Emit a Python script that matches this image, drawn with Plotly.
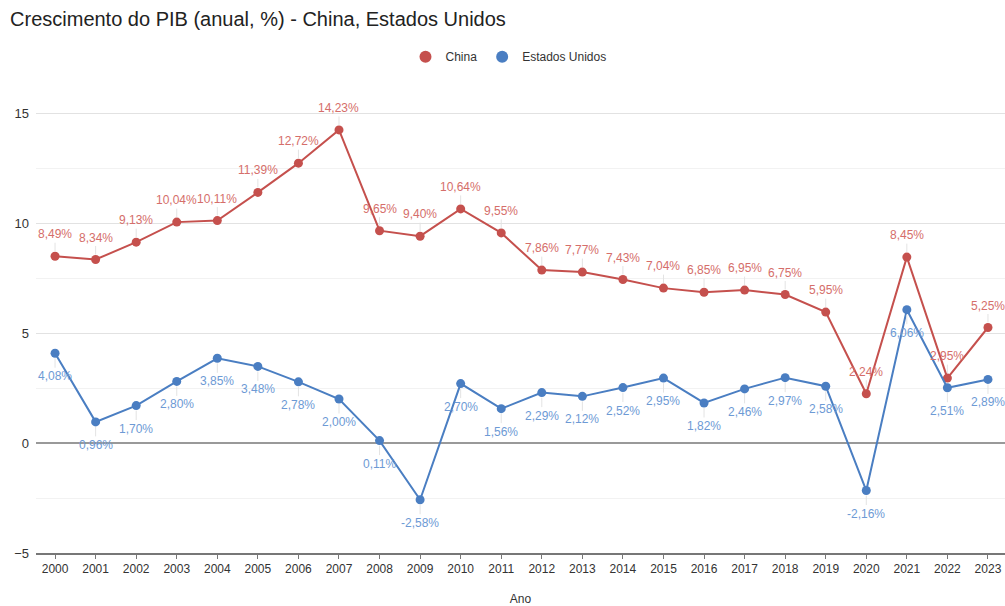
import plotly.graph_objects as go

anos = list(range(2000, 2024))
china = [8.49, 8.34, 9.13, 10.04, 10.11, 11.39, 12.72, 14.23, 9.65, 9.40, 10.64, 9.55,
         7.86, 7.77, 7.43, 7.04, 6.85, 6.95, 6.75, 5.95, 2.24, 8.45, 2.95, 5.25]
eua = [4.08, 0.96, 1.70, 2.80, 3.85, 3.48, 2.78, 2.00, 0.11, -2.58, 2.70, 1.56,
       2.29, 2.12, 2.52, 2.95, 1.82, 2.46, 2.97, 2.58, -2.16, 6.06, 2.51, 2.89]

COR_CHINA = '#c5504d'
COR_EUA = '#4a7ec2'
ROT_CHINA = '#d56e6a'
ROT_EUA = '#6d9ad5'
FONTE = 'Liberation Sans, Arial, sans-serif'


def fmt(v):
    return f"{v:.2f}".replace('.', ',') + '%'


fig = go.Figure()

for nome, vals, cor in [('China', china, COR_CHINA), ('Estados Unidos', eua, COR_EUA)]:
    fig.add_trace(go.Scatter(
        x=anos, y=vals, name=nome, mode='lines+markers',
        line=dict(color=cor, width=2),
        marker=dict(size=9, color=cor),
        showlegend=False,
    ))
    # entrada de legenda só com o círculo
    fig.add_trace(go.Scatter(
        x=[None], y=[None], name=nome, mode='markers',
        marker=dict(size=12, color=cor),
    ))

# rótulos com linha guia: China acima, EUA abaixo
annotations = []
for a, v in zip(anos, china):
    annotations.append(dict(
        x=a, y=v, text=fmt(v), showarrow=True, ax=0, ay=-22,
        arrowhead=0, arrowwidth=1, arrowcolor='#e3e3e3', standoff=5,
        font=dict(color=ROT_CHINA, size=12, family=FONTE),
    ))
for a, v in zip(anos, eua):
    annotations.append(dict(
        x=a, y=v, text=fmt(v), showarrow=True, ax=0, ay=23,
        arrowhead=0, arrowwidth=1, arrowcolor='#e3e3e3', standoff=5,
        font=dict(color=ROT_EUA, size=12, family=FONTE),
    ))

fig.update_layout(
    title=dict(text='Crescimento do PIB (anual, %) - China, Estados Unidos',
               x=0.01, xanchor='left', y=1 - 19 / 606, yanchor='middle',
               font=dict(size=20, color='#222222', family=FONTE)),
    width=1005, height=606,
    margin=dict(l=36, r=0, t=91, b=53),
    paper_bgcolor='white', plot_bgcolor='white',
    font=dict(family=FONTE, color='#333333'),
    showlegend=True,
    legend=dict(orientation='h', x=0.4876, xanchor='center', y=1.074, yanchor='middle',
                font=dict(size=12, color='#333333'), itemwidth=30),
    annotations=annotations,
    xaxis=dict(
        range=[1999.53, 2023.42], tickmode='array', tickvals=anos,
        ticktext=[str(a) for a in anos], showgrid=False, zeroline=False,
        showline=True, linecolor='#777777', linewidth=2,
        ticks='outside', ticklen=4, tickcolor='#777777', tickwidth=1,
        tickfont=dict(size=12, color='#333333'),
        title=dict(text='Ano', font=dict(size=12, color='#333333'), standoff=19),
    ),
    yaxis=dict(
        range=[-5, 16], tickmode='array', tickvals=[-5, 0, 5, 10, 15],
        showgrid=True, gridcolor='#e2e2e2', gridwidth=1,
        zeroline=True, zerolinecolor='#999999', zerolinewidth=2,
        tickfont=dict(size=13, color='#333333'), ticks='', ticklabelstandoff=6,
        minor=dict(tickvals=[-2.5, 2.5, 7.5, 12.5], showgrid=True,
                   gridcolor='#f2f2f2', gridwidth=1),
    ),
)

fig.write_html("out.html", config={'displayModeBar': False},
               post_script="document.body.style.margin='0';document.body.style.overflow='hidden';")
